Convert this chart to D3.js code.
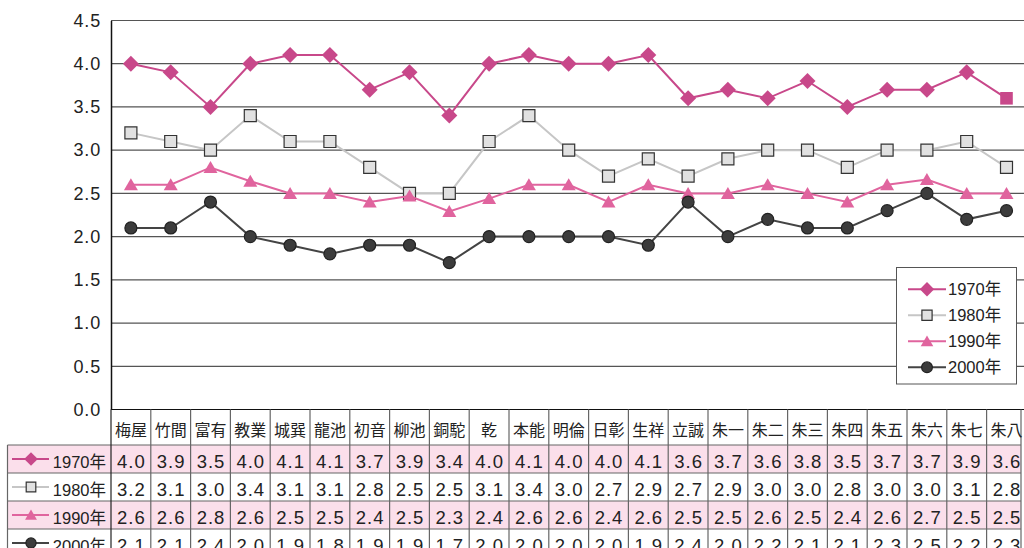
<!DOCTYPE html>
<html>
<head>
<meta charset="utf-8">
<script src="https://cdn.jsdelivr.net/npm/d3@7"></script>
<style>
    body { margin: 0; background: #fff; }
    svg { display: block; }
    .num { font-family: 'Liberation Sans', Arial, sans-serif; fill: #222; }
    .cjk { font-family: 'Liberation Sans', 'Noto Sans CJK JP', sans-serif; fill: #222; }
</style>
</head>
<body>
<div id="chart"></div>
<script>
const categories = ['梅屋', '竹間', '富有', '教業', '城巽', '龍池', '初音', '柳池', '銅駝', '乾', '本能', '明倫',
    '日彰', '生祥', '立誠', '朱一', '朱二', '朱三', '朱四', '朱五', '朱六', '朱七', '朱八'];
const years = ['1970年', '1980年', '1990年', '2000年'];

const v1970 = [4.0, 3.9, 3.5, 4.0, 4.1, 4.1, 3.7, 3.9, 3.4, 4.0, 4.1, 4.0, 4.0, 4.1, 3.6, 3.7, 3.6, 3.8, 3.5, 3.7, 3.7, 3.9, 3.6];
const v1980 = [3.2, 3.1, 3.0, 3.4, 3.1, 3.1, 2.8, 2.5, 2.5, 3.1, 3.4, 3.0, 2.7, 2.9, 2.7, 2.9, 3.0, 3.0, 2.8, 3.0, 3.0, 3.1, 2.8];
const v1990 = [2.6, 2.6, 2.8, 2.64, 2.5, 2.5, 2.4, 2.47, 2.29, 2.44, 2.6, 2.6, 2.4, 2.6, 2.5, 2.5, 2.6, 2.5, 2.4, 2.6, 2.66, 2.5, 2.5];
const v2000 = [2.1, 2.1, 2.4, 2.0, 1.9, 1.8, 1.9, 1.9, 1.7, 2.0, 2.0, 2.0, 2.0, 1.9, 2.4, 2.0, 2.2, 2.1, 2.1, 2.3, 2.5, 2.2, 2.3];

const yTicks = [0, 0.5, 1.0, 1.5, 2.0, 2.5, 3.0, 3.5, 4.0, 4.5];

const width = 1024;
const height = 548;

const series = [
    { name: years[0], values: v1970, line: '#c8488a', shape: 'diamond', fill: '#c8488a', stroke: 'none' },
    { name: years[1], values: v1980, line: '#c6c6c6', shape: 'square', fill: '#e1e1e1', stroke: '#333' },
    { name: years[2], values: v1990, line: '#e0649e', shape: 'triangle', fill: '#e0649e', stroke: 'none' },
    { name: years[3], values: v2000, line: '#444444', shape: 'circle', fill: '#3c3c3c', stroke: '#222' }
];

const shapes = {
    diamond: k => `M0,${-8 * k}L${8 * k},0L0,${8 * k}L${-8 * k},0Z`,
    square: k => `M${-6 * k},${-6 * k}h${12 * k}v${12 * k}h${-12 * k}Z`,
    triangle: k => `M0,${-6.5 * k}L${7 * k},${5.5 * k}L${-7 * k},${5.5 * k}Z`,
    circle: k => `M${6 * k},0A${6 * k},${6 * k} 0 1,1 ${-6 * k},0A${6 * k},${6 * k} 0 1,1 ${6 * k},0Z`
};

const svg = d3.select('#chart')
    .append('svg')
    .attr('width', width)
    .attr('height', height);

const x = d3.scaleBand()
    .domain(categories)
    .range([111, 111 + categories.length * 39.8]);

const y = d3.scaleLinear()
    .domain([0, 4.5])
    .range([409.5, 20.5]);

const tableRight = 1021;

// grid lines
svg.append('g').selectAll('line')
    .data(yTicks)
    .enter()
    .append('line')
        .attr('x1', 111)
        .attr('x2', width)
        .attr('y1', d => y(d))
        .attr('y2', d => y(d))
        .attr('stroke', d => d == 0 ? '#111' : '#555')
        .attr('stroke-width', 1.2);

// y axis
const yAxis = d3.axisLeft(y)
    .tickValues(yTicks)
    .tickSize(0)
    .tickPadding(10)
    .tickFormat(d3.format('.1f'));

const yAxisG = svg.append('g')
    .attr('transform', 'translate(111,0)')
    .call(yAxis);
yAxisG.select('.domain').attr('stroke', '#111').attr('stroke-width', 1.5);
yAxisG.selectAll('text')
    .attr('class', 'num')
    .style('font-size', '18px')
    .style('letter-spacing', '0.8px')
    .attr('fill', '#222');

// series
const lineGen = d3.line()
    .x((d, i) => x(categories[i]) + x.bandwidth() / 2)
    .y(d => y(d));

series.forEach(s => {
    const g = svg.append('g');
    g.append('path')
        .attr('d', lineGen(s.values))
        .attr('fill', 'none')
        .attr('stroke', s.line)
        .attr('stroke-width', 2);
    g.selectAll('path.mark')
        .data(s.values)
        .enter()
        .append('path')
            .classed('mark', true)
            .attr('transform', (d, i) => 'translate(' + (x(categories[i]) + x.bandwidth() / 2) + ',' + y(d) + ')')
            // the last 1970 point is drawn as a square in the original
            .attr('d', (d, i) => (s.shape == 'diamond' && i == s.values.length - 1) ? shapes.square(1.05) : shapes[s.shape](1))
            .attr('fill', s.fill)
            .attr('stroke', s.stroke)
            .attr('stroke-width', 1.2);
});

// legend box
const legend = svg.append('g');
legend.append('rect')
    .attr('x', 896.5)
    .attr('y', 267.5)
    .attr('width', 120)
    .attr('height', 116.5)
    .attr('fill', '#fff')
    .attr('stroke', '#555')
    .attr('stroke-width', 1);

const legendItems = legend.selectAll('.item')
    .data(series)
    .enter()
    .append('g')
        .attr('transform', (d, i) => 'translate(0,' + (289.3 + i * 26) + ')');
legendItems.append('line')
    .attr('x1', 908).attr('x2', 946)
    .attr('stroke', d => d.line)
    .attr('stroke-width', 2);
legendItems.append('path')
    .attr('transform', 'translate(927,0)')
    .attr('d', d => shapes[d.shape](d.shape == 'square' ? 0.85 : 0.9))
    .attr('fill', d => d.fill)
    .attr('stroke', d => d.stroke)
    .attr('stroke-width', 1.2);
legendItems.append('text')
    .attr('class', 'cjk')
    .attr('x', 948)
    .attr('y', 6)
    .style('font-size', '16.5px')
    .text(d => d.name);

// data table
const headerTop = 409.5;
const rowTop = 445;
const rowH = 28;
const table = svg.append('g');

table.selectAll('.rowbg')
    .data(series)
    .enter()
    .append('rect')
        .attr('x', 7.5)
        .attr('y', (d, i) => rowTop + i * rowH)
        .attr('width', tableRight - 7.5)
        .attr('height', rowH)
        .attr('fill', (d, i) => i % 2 == 0 ? '#fbdfeb' : '#fff');

// horizontal rules
table.selectAll('.hrule')
    .data(d3.range(series.length + 1))
    .enter()
    .append('line')
        .attr('x1', 7.5)
        .attr('x2', tableRight)
        .attr('y1', i => rowTop + i * rowH)
        .attr('y2', i => rowTop + i * rowH)
        .attr('stroke', '#666')
        .attr('stroke-width', 1.2);

// vertical rules
const colEdges = categories.map(c => x(c)).concat([tableRight]);
table.selectAll('.vrule')
    .data(colEdges)
    .enter()
    .append('line')
        .attr('x1', d => d)
        .attr('x2', d => d)
        .attr('y1', headerTop)
        .attr('y2', height)
        .attr('stroke', (d, i) => i == 0 ? '#222' : '#666')
        .attr('stroke-width', 1.2);
table.append('line')
    .attr('x1', 7.5).attr('x2', 7.5)
    .attr('y1', rowTop).attr('y2', height)
    .attr('stroke', '#666')
    .attr('stroke-width', 1.2);

// header labels
table.selectAll('.head')
    .data(categories)
    .enter()
    .append('text')
        .attr('class', 'cjk')
        .attr('x', d => x(d) + x.bandwidth() / 2)
        .attr('y', 436)
        .attr('text-anchor', 'middle')
        .style('font-size', '16px')
        .style('font-family', "'Noto Sans CJK JP', sans-serif")
        .text(d => d);

// row labels with keys
const rowLabels = table.selectAll('.rowlabel')
    .data(series)
    .enter()
    .append('g')
        .attr('transform', (d, i) => 'translate(0,' + (rowTop + i * rowH + rowH / 2) + ')');
rowLabels.append('line')
    .attr('x1', 12).attr('x2', 49)
    .attr('stroke', d => d.line)
    .attr('stroke-width', 2);
rowLabels.append('path')
    .attr('transform', 'translate(31,0)')
    .attr('d', d => shapes[d.shape](d.shape == 'square' ? 0.8 : 0.85))
    .attr('fill', d => d.fill)
    .attr('stroke', d => d.stroke)
    .attr('stroke-width', 1.2);
rowLabels.append('text')
    .attr('class', 'cjk')
    .attr('x', 106)
    .attr('y', 9)
    .attr('text-anchor', 'end')
    .style('font-size', '16.5px')
    .text(d => d.name);

// values
series.forEach((s, r) => {
    table.append('g').selectAll('text')
        .data(s.values)
        .enter()
        .append('text')
            .attr('class', 'num')
            .attr('x', (d, i) => x(categories[i]) + x.bandwidth() / 2 + 0.5)
            .attr('y', rowTop + r * rowH + 23)
            .attr('text-anchor', 'middle')
            .style('font-size', '18.5px')
            .style('letter-spacing', '1px')
            .text(d => d.toFixed(1));
});
</script>
</body>
</html>
